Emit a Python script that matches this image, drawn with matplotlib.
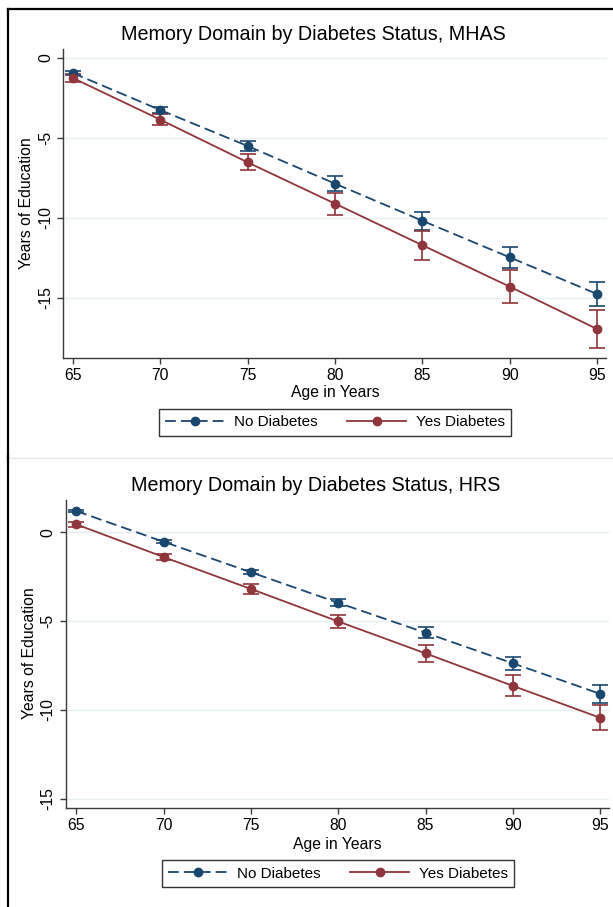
import numpy as np
import matplotlib
matplotlib.use("Agg")
import matplotlib.pyplot as plt
from matplotlib.lines import Line2D

plt.rcParams["font.family"] = ["Liberation Sans", "DejaVu Sans"]

W, H = 613, 907
NAVY = "#1a476f"
MAROON = "#90353b"

ages = [65, 70, 75, 80, 85, 90, 95]

# MHAS panel
mhas_no = [-0.94, -3.25, -5.5, -7.85, -10.17, -12.46, -14.75]
mhas_no_err = [0.12, 0.2, 0.3, 0.47, 0.56, 0.65, 0.77]
mhas_yes = [-1.25, -3.85, -6.52, -9.1, -11.7, -14.29, -16.94]
mhas_yes_err = [0.25, 0.35, 0.5, 0.69, 0.9, 1.02, 1.2]

# HRS panel
hrs_no = [1.2, -0.53, -2.25, -3.97, -5.66, -7.38, -9.1]
hrs_no_err = [0.06, 0.08, 0.12, 0.2, 0.3, 0.36, 0.5]
hrs_yes = [0.45, -1.39, -3.19, -5.02, -6.82, -8.65, -10.45]
hrs_yes_err = [0.15, 0.15, 0.28, 0.37, 0.47, 0.59, 0.7]

yticks = [0, -5, -10, -15]


def px(l, t, r, b):
    return [l / W, 1 - b / H, (r - l) / W, (b - t) / H]


def draw_panel(fig, rect, title, title_xy, no, no_err, yes, yes_err, ylim, xlim,
               xlabel_xy, ylabel_xy, legend_xy):
    ax = fig.add_axes(px(*rect))
    for s in ["top", "right"]:
        ax.spines[s].set_visible(False)
    for s in ["left", "bottom"]:
        ax.spines[s].set_color("#3a3a3a")
        ax.spines[s].set_linewidth(1.0)
    for y in yticks:
        ax.axhline(y, color="#e6f0f2", lw=1.0, zorder=0)

    ax.errorbar(ages, no, yerr=no_err, fmt="none", ecolor=NAVY, elinewidth=1.2,
                capsize=5.5, capthick=1.2, zorder=3)
    ax.errorbar(ages, yes, yerr=yes_err, fmt="none", ecolor=MAROON, elinewidth=1.2,
                capsize=5.5, capthick=1.2, zorder=3)
    l1, = ax.plot(ages, no, color=NAVY, lw=1.3, dashes=(6, 2.8), marker="o",
                  markersize=6, label="No Diabetes", zorder=4)
    l2, = ax.plot(ages, yes, color=MAROON, lw=1.3, marker="o",
                  markersize=6, label="Yes Diabetes", zorder=4)

    ax.set_xlim(*xlim)
    ax.set_ylim(*ylim)
    ax.set_xticks(ages)
    ax.set_yticks(yticks)
    ax.set_yticklabels([str(v) for v in yticks], rotation=90, va="center")
    ax.tick_params(axis="both", labelsize=11.3, direction="out", length=4.3,
                   color="#3a3a3a", width=1.0)
    ax.tick_params(axis="x", pad=3)
    ax.tick_params(axis="y", pad=3)

    fig.text(title_xy[0] / W, 1 - title_xy[1] / H, title, ha="center",
             va="center", fontsize=14.2)
    fig.text(xlabel_xy[0] / W, 1 - xlabel_xy[1] / H, "Age in Years",
             ha="center", va="center", fontsize=11.3)
    fig.text(ylabel_xy[0] / W, 1 - ylabel_xy[1] / H, "Years of Education",
             ha="center", va="center", rotation=90, fontsize=11.3)

    leg = fig.legend(handles=[l1, l2], loc="center",
                     bbox_to_anchor=(legend_xy[0] / W, 1 - legend_xy[1] / H),
                     ncol=2, fontsize=11, frameon=True, fancybox=False,
                     handlelength=3.9, columnspacing=1.9, handletextpad=0.6,
                     borderpad=0.45)
    leg.get_frame().set_edgecolor("black")
    leg.get_frame().set_linewidth(1.0)
    return ax


fig = plt.figure(figsize=(W / 100, H / 100), dpi=100)
fig.patch.set_facecolor("white")

# panel frames
fig.add_artist(Line2D([8 / W, 8 / W], [1 - 9 / H, 1 - 458 / H], color="black", lw=1.6))
fig.add_artist(Line2D([8 / W, 1.0], [1 - 9 / H, 1 - 9 / H], color="black", lw=1.6))
fig.add_artist(Line2D([8 / W, 1.0], [1 - 458 / H, 1 - 458 / H], color="#e4e8ea", lw=1.0))
fig.add_artist(Line2D([8 / W, 8 / W], [1 - 456 / H, 0.0], color="black", lw=1.6))

draw_panel(fig, (63.3, 49, 606.5, 358), "Memory Domain by Diabetes Status, MHAS",
           (313, 35), mhas_no, mhas_no_err, mhas_yes, mhas_yes_err,
           (-18.75, 0.56), (64.46, 95.54), (335.5, 392), (27, 203), (335, 422.5))

draw_panel(fig, (65.7, 500, 608.8, 808), "Memory Domain by Diabetes Status, HRS",
           (315.5, 485), hrs_no, hrs_no_err, hrs_yes, hrs_yes_err,
           (-15.53, 1.82), (64.40, 95.49), (337.8, 845), (29.3, 653), (338, 873.5))

fig.savefig("out.png", dpi=100)
